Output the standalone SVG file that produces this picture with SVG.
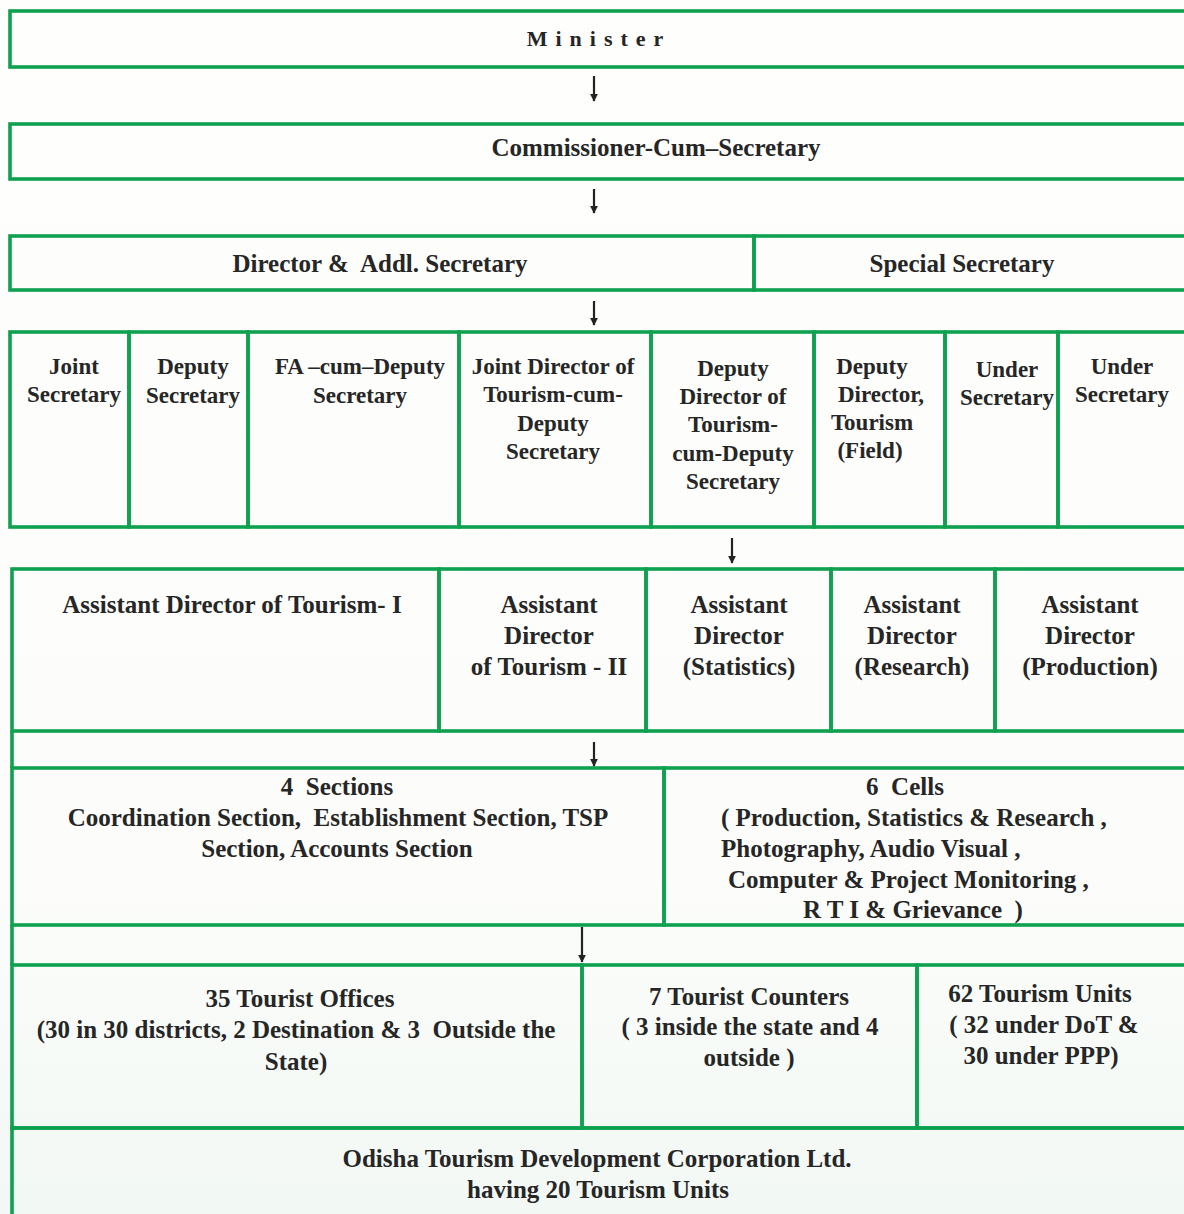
<svg xmlns="http://www.w3.org/2000/svg" width="1184" height="1214" viewBox="0 0 1184 1214" xml:space="preserve">
<defs>
<linearGradient id="bg" x1="0" y1="0" x2="0" y2="1">
<stop offset="0" stop-color="#fefefd"/>
<stop offset="0.72" stop-color="#fcfdfb"/>
<stop offset="1" stop-color="#f2f8f4"/>
</linearGradient>
<marker id="ah" viewBox="0 0 10 10" refX="9" refY="5" markerWidth="8" markerHeight="9" markerUnits="userSpaceOnUse" orient="auto">
<path d="M0,0 L10,5 L0,10 Z" fill="#222"/>
</marker>
<style>
.box{fill:none;stroke:#0ea14f;stroke-width:3.6}
.t{font-family:"Liberation Serif","Times New Roman",serif;font-weight:bold;font-size:25px;fill:#262626;text-anchor:middle;white-space:pre}
.s{font-size:23px}
.l{text-anchor:start}
.con{stroke:#222;stroke-width:2.2;fill:none;marker-end:url(#ah)}
.frame{stroke:#0ea14f;stroke-width:3.6;fill:none}
</style>
</defs>
<rect x="0" y="0" width="1184" height="1214" fill="url(#bg)"/>

<g id="frame">
<line class="frame" x1="12" y1="731" x2="12" y2="768"/>
<line class="frame" x1="12" y1="925" x2="12" y2="965"/>
</g>

<g id="minister">
<rect class="box" x="10" y="11" width="1190" height="56"/>
<text class="t" x="599" y="46" style="font-size:22px;letter-spacing:8px">Minister</text>
</g>
<g id="commissioner">
<rect class="box" x="10" y="124" width="1190" height="55"/>
<text class="t" x="656" y="156">Commissioner-Cum–Secretary</text>
</g>
<g id="director">
<rect class="box" x="10" y="236" width="744" height="54"/>
<text class="t" x="380" y="272">Director &amp;  Addl. Secretary</text>
</g>
<g id="special-secretary">
<rect class="box" x="754" y="236" width="446" height="54"/>
<text class="t" x="962" y="272">Special Secretary</text>
</g>

<g id="joint-secretary">
<rect class="box" x="10" y="332" width="119" height="195"/>
<text class="t s" x="74" y="374">Joint</text>
<text class="t s" x="74" y="402">Secretary</text>
</g>
<g id="deputy-secretary">
<rect class="box" x="129" y="332" width="119" height="195"/>
<text class="t s" x="193" y="374">Deputy</text>
<text class="t s" x="193" y="403">Secretary</text>
</g>
<g id="fa-deputy-secretary">
<rect class="box" x="248" y="332" width="211" height="195"/>
<text class="t s" x="360" y="374">FA –cum–Deputy</text>
<text class="t s" x="360" y="403">Secretary</text>
</g>
<g id="joint-director">
<rect class="box" x="459" y="332" width="192" height="195"/>
<text class="t s" x="553" y="374">Joint Director of</text>
<text class="t s" x="553" y="402">Tourism-cum-</text>
<text class="t s" x="553" y="431">Deputy</text>
<text class="t s" x="553" y="459">Secretary</text>
</g>
<g id="deputy-director">
<rect class="box" x="651" y="332" width="163" height="195"/>
<text class="t s" x="733" y="376">Deputy</text>
<text class="t s" x="733" y="404">Director of</text>
<text class="t s" x="733" y="432">Tourism-</text>
<text class="t s" x="733" y="461">cum-Deputy</text>
<text class="t s" x="733" y="489">Secretary</text>
</g>
<g id="deputy-director-field">
<rect class="box" x="814" y="332" width="131" height="195"/>
<text class="t s" x="872" y="374">Deputy</text>
<text class="t s" x="881" y="402">Director,</text>
<text class="t s" x="872" y="430">Tourism</text>
<text class="t s" x="870" y="458">(Field)</text>
</g>
<g id="under-secretary-1">
<rect class="box" x="945" y="332" width="113" height="195"/>
<text class="t s" x="1007" y="377">Under</text>
<text class="t s" x="1007" y="405">Secretary</text>
</g>
<g id="under-secretary-2">
<rect class="box" x="1058" y="332" width="142" height="195"/>
<text class="t s" x="1122" y="374">Under</text>
<text class="t s" x="1122" y="402">Secretary</text>
</g>

<g id="ad-tourism-1">
<rect class="box" x="12" y="569" width="427" height="162"/>
<text class="t" x="232" y="613">Assistant Director of Tourism- I</text>
</g>
<g id="ad-tourism-2">
<rect class="box" x="439" y="569" width="207" height="162"/>
<text class="t" x="549" y="613">Assistant</text>
<text class="t" x="549" y="644">Director</text>
<text class="t" x="549" y="675">of Tourism - II</text>
</g>
<g id="ad-statistics">
<rect class="box" x="646" y="569" width="185" height="162"/>
<text class="t" x="739" y="613">Assistant</text>
<text class="t" x="739" y="644">Director</text>
<text class="t" x="739" y="675">(Statistics)</text>
</g>
<g id="ad-research">
<rect class="box" x="831" y="569" width="164" height="162"/>
<text class="t" x="912" y="613">Assistant</text>
<text class="t" x="912" y="644">Director</text>
<text class="t" x="912" y="675">(Research)</text>
</g>
<g id="ad-production">
<rect class="box" x="995" y="569" width="205" height="162"/>
<text class="t" x="1090" y="613">Assistant</text>
<text class="t" x="1090" y="644">Director</text>
<text class="t" x="1090" y="675">(Production)</text>
</g>

<g id="sections">
<rect class="box" x="12" y="768" width="652" height="157"/>
<text class="t" x="337" y="795">4  Sections</text>
<text class="t" x="338" y="826">Coordination Section,  Establishment Section, TSP</text>
<text class="t" x="337" y="857">Section, Accounts Section</text>
</g>
<g id="cells">
<rect class="box" x="664" y="768" width="536" height="157"/>
<text class="t" x="905" y="795">6  Cells</text>
<text class="t l" x="721" y="826">( Production, Statistics &amp; Research ,</text>
<text class="t l" x="721" y="857">Photography, Audio Visual ,</text>
<text class="t l" x="728" y="888">Computer &amp; Project Monitoring ,</text>
<text class="t l" x="803" y="918">R T I &amp; Grievance  )</text>
</g>

<g id="tourist-offices">
<rect class="box" x="12" y="965" width="570" height="163"/>
<text class="t" x="300" y="1007">35 Tourist Offices</text>
<text class="t" x="296" y="1038">(30 in 30 districts, 2 Destination &amp; 3  Outside the</text>
<text class="t" x="296" y="1070">State)</text>
</g>
<g id="tourist-counters">
<rect class="box" x="582" y="965" width="335" height="163"/>
<text class="t" x="749" y="1005">7 Tourist Counters</text>
<text class="t" x="750" y="1035">( 3 inside the state and 4</text>
<text class="t" x="749" y="1066">outside )</text>
</g>
<g id="tourism-units">
<rect class="box" x="917" y="965" width="283" height="163"/>
<text class="t" x="1040" y="1002">62 Tourism Units</text>
<text class="t" x="1044" y="1033">( 32 under DoT &amp;</text>
<text class="t" x="1041" y="1064">30 under PPP)</text>
</g>
<g id="otdc">
<rect class="box" x="12" y="1128" width="1188" height="100"/>
<text class="t" x="597" y="1167">Odisha Tourism Development Corporation Ltd.</text>
<text class="t" x="598" y="1198">having 20 Tourism Units</text>
</g>

<g id="connectors">
<line class="con" x1="594" y1="76" x2="594" y2="101"/>
<line class="con" x1="594" y1="189" x2="594" y2="213"/>
<line class="con" x1="594" y1="301" x2="594" y2="325"/>
<line class="con" x1="732" y1="538" x2="732" y2="563"/>
<line class="con" x1="594" y1="742" x2="594" y2="766"/>
<line class="con" x1="582" y1="927" x2="582" y2="962"/>
</g>
</svg>
